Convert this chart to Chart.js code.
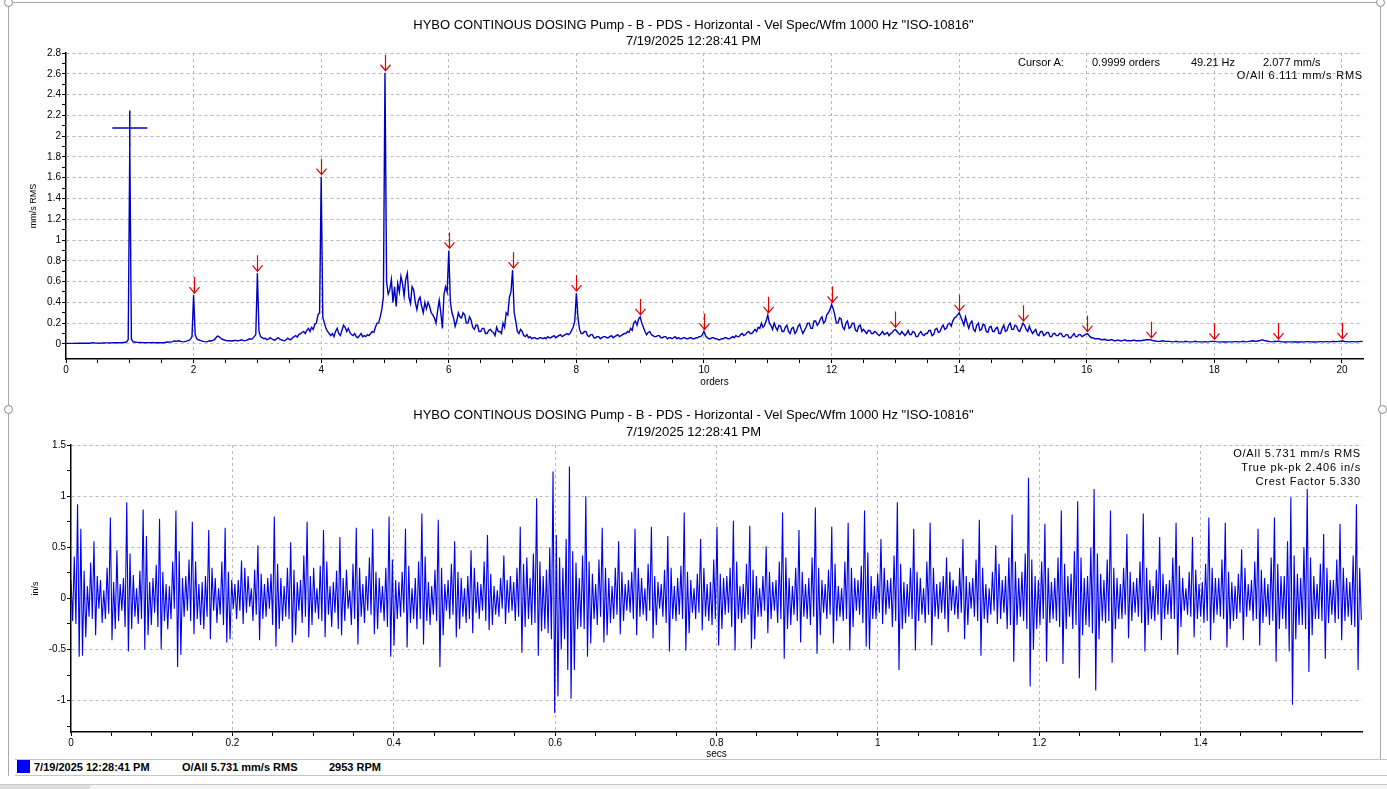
<!DOCTYPE html>
<html>
<head>
<meta charset="utf-8">
<title>Vel Spec/Wfm</title>
<script src="https://cdn.jsdelivr.net/npm/chart.js@4.4.1/dist/chart.umd.min.js"></script>
<style>
  html, body { margin: 0; padding: 0; background: #fff; }
  body { position: relative; width: 1387px; height: 789px; overflow: hidden; font-family: "Liberation Sans", Arial, sans-serif; color: #000; }
  canvas { position: absolute; left: 0; }
  #specChart { top: 0; }
  #wfmChart { top: 400px; }
  .txt { position: absolute; white-space: nowrap; }
  .title { left: 0; width: 1387px; text-align: center; font-size: 13px; line-height: 16px; }
  .note { font-size: 11px; line-height: 14px; }
  .spaced { letter-spacing: 0.8px; text-align: right; }
  .legend { font-size: 11px; font-weight: bold; line-height: 14px; top: 760px; }
  .line { position: absolute; background: #a9a9a9; }
  .handle { position: absolute; width: 7px; height: 7px; border: 1px solid #8a8a8a; border-radius: 50%; background: #fff; }
</style>
</head>
<body>
<div class="line" style="left:8px;top:2px;width:1373px;height:1px"></div>
<div class="line" style="left:8px;top:2px;width:1px;height:774px"></div>
<div class="line" style="left:1380px;top:2px;width:1px;height:757px"></div>
<div class="line" style="left:15px;top:759px;width:1372px;height:1px;background:#c4c4c4"></div>
<div class="line" style="left:15px;top:775px;width:1372px;height:1px;background:#c4c4c4"></div>
<div class="line" style="left:0;top:784px;width:1387px;height:5px;background:#f4f4f4"></div>
<div class="line" style="left:0;top:784px;width:1387px;height:1px;background:#c8c8c8"></div>
<div class="line" style="left:0;top:785px;width:90px;height:4px;background:#dedede"></div>

<canvas id="specChart" width="1387" height="395"></canvas>
<canvas id="wfmChart" width="1387" height="360"></canvas>

<div class="handle" style="left:4px;top:-2px"></div>
<div class="handle" style="left:1376px;top:-2px"></div>
<div class="handle" style="left:4px;top:405px"></div>
<div class="handle" style="left:1378px;top:405px"></div>

<div class="txt title" style="top:17px">HYBO CONTINOUS DOSING Pump - B - PDS - Horizontal - Vel Spec/Wfm 1000 Hz "ISO-10816"</div>
<div class="txt title" style="top:33px">7/19/2025 12:28:41 PM</div>
<div class="txt title" style="top:407px">HYBO CONTINOUS DOSING Pump - B - PDS - Horizontal - Vel Spec/Wfm 1000 Hz "ISO-10816"</div>
<div class="txt title" style="top:424px">7/19/2025 12:28:41 PM</div>

<div class="txt note" style="left:1018px;top:55px">Cursor A:</div>
<div class="txt note" style="left:1092px;top:55px">0.9999 orders</div>
<div class="txt note" style="left:1191px;top:55px">49.21 Hz</div>
<div class="txt note" style="left:1263px;top:55px">2.077 mm/s</div>
<div class="txt note spaced" style="right:24px;top:68px">O/All 6.111 mm/s RMS</div>

<div class="txt note spaced" style="right:26px;top:446px">O/All 5.731 mm/s RMS</div>
<div class="txt note spaced" style="right:26px;top:460px">True pk-pk 2.406 in/s</div>
<div class="txt note spaced" style="right:26px;top:474px">Crest Factor 5.330</div>

<div style="position:absolute;left:17px;top:760px;width:11px;height:11px;background:#0000ff;border:1px dotted #000040"></div>
<div class="txt legend" style="left:34px">7/19/2025 12:28:41 PM</div>
<div class="txt legend" style="left:182px">O/All 5.731 mm/s RMS</div>
<div class="txt legend" style="left:329px">2953 RPM</div>

<script>
// spectrum, one value every 0.025 orders from 0 to 20.325 (mm/s RMS), one row per order
var specStep = 0.025;
var specAmps = [
    0.005, 0.005, 0.005, 0.005, 0.005, 0.005, 0.006, 0.005, 0.006, 0.006, 0.006, 0.007, 0.007, 0.006, 0.008, 0.007, 0.010, 0.012, 0.009, 0.008,
    0.008, 0.007, 0.008, 0.009, 0.009, 0.010, 0.010, 0.009, 0.010, 0.011, 0.011, 0.012, 0.012, 0.011, 0.012, 0.013, 0.015, 0.014, 0.02, 0.04,
    1.92, 0.05, 0.02, 0.018, 0.016, 0.015, 0.014, 0.014, 0.013, 0.012, 0.012, 0.013, 0.013, 0.012, 0.014, 0.013, 0.012, 0.011, 0.012, 0.012,
    0.013, 0.012, 0.014, 0.016, 0.018, 0.017, 0.02, 0.022, 0.03, 0.025, 0.028, 0.03, 0.025, 0.022, 0.02, 0.024, 0.03, 0.035, 0.045, 0.07,
    0.47, 0.09, 0.05, 0.04, 0.035, 0.03, 0.025, 0.022, 0.02, 0.025, 0.03, 0.028, 0.035, 0.04, 0.06, 0.075, 0.07, 0.055, 0.045, 0.04,
    0.035, 0.03, 0.032, 0.03, 0.028, 0.03, 0.035, 0.032, 0.03, 0.035, 0.04, 0.035, 0.03, 0.035, 0.04, 0.05, 0.045, 0.05, 0.07, 0.09,
    0.68, 0.12, 0.07, 0.06, 0.05, 0.055, 0.04, 0.045, 0.06, 0.05, 0.04, 0.035, 0.05, 0.06, 0.045, 0.04, 0.035, 0.03, 0.04, 0.055,
    0.045, 0.04, 0.06, 0.07, 0.08, 0.065, 0.09, 0.1, 0.11, 0.12, 0.1, 0.13, 0.15, 0.12, 0.16, 0.14, 0.19, 0.2, 0.28, 0.3,
    1.61, 0.26, 0.2, 0.15, 0.12, 0.1, 0.08, 0.1, 0.07, 0.12, 0.15, 0.1, 0.08, 0.13, 0.18, 0.16, 0.12, 0.15, 0.11, 0.09,
    0.08, 0.1, 0.07, 0.06, 0.08, 0.1, 0.07, 0.08, 0.07, 0.09, 0.08, 0.1, 0.12, 0.11, 0.16, 0.2, 0.2, 0.26, 0.33, 0.45,
    2.61, 0.6, 0.48, 0.52, 0.62, 0.4, 0.55, 0.36, 0.58, 0.5, 0.65, 0.58, 0.46, 0.62, 0.68, 0.45, 0.39, 0.55, 0.52, 0.4,
    0.33, 0.42, 0.45, 0.36, 0.3, 0.4, 0.34, 0.4, 0.36, 0.3, 0.28, 0.25, 0.2, 0.32, 0.42, 0.3, 0.15, 0.48, 0.55, 0.5,
    0.9, 0.4, 0.3, 0.25, 0.17, 0.22, 0.3, 0.26, 0.25, 0.3, 0.28, 0.2, 0.2, 0.26, 0.23, 0.16, 0.14, 0.18, 0.18, 0.12,
    0.12, 0.15, 0.15, 0.1, 0.1, 0.13, 0.14, 0.12, 0.11, 0.08, 0.16, 0.12, 0.12, 0.1, 0.2, 0.16, 0.3, 0.28, 0.45, 0.5,
    0.71, 0.3, 0.22, 0.12, 0.1, 0.14, 0.12, 0.08, 0.07, 0.09, 0.06, 0.07, 0.05, 0.06, 0.06, 0.05, 0.05, 0.06, 0.06, 0.05,
    0.06, 0.05, 0.07, 0.06, 0.06, 0.07, 0.08, 0.06, 0.07, 0.08, 0.09, 0.07, 0.08, 0.09, 0.1, 0.09, 0.1, 0.13, 0.16, 0.22,
    0.49, 0.25, 0.14, 0.1, 0.1, 0.12, 0.12, 0.08, 0.07, 0.09, 0.09, 0.06, 0.06, 0.07, 0.07, 0.05, 0.06, 0.07, 0.07, 0.06,
    0.06, 0.07, 0.08, 0.06, 0.07, 0.08, 0.09, 0.07, 0.08, 0.09, 0.1, 0.1, 0.12, 0.11, 0.15, 0.13, 0.2, 0.22, 0.18, 0.24,
    0.26, 0.2, 0.16, 0.12, 0.09, 0.11, 0.12, 0.09, 0.08, 0.07, 0.07, 0.08, 0.08, 0.06, 0.06, 0.07, 0.07, 0.05, 0.06, 0.06,
    0.05, 0.06, 0.07, 0.05, 0.06, 0.05, 0.05, 0.06, 0.06, 0.05, 0.05, 0.06, 0.06, 0.05, 0.05, 0.06, 0.06, 0.07, 0.07, 0.09,
    0.12, 0.08, 0.06, 0.05, 0.05, 0.06, 0.06, 0.05, 0.05, 0.04, 0.04, 0.05, 0.05, 0.06, 0.06, 0.05, 0.05, 0.06, 0.07, 0.06,
    0.08, 0.07, 0.07, 0.09, 0.1, 0.08, 0.09, 0.11, 0.12, 0.1, 0.1, 0.12, 0.14, 0.12, 0.16, 0.15, 0.2, 0.16, 0.18, 0.22,
    0.28, 0.2, 0.18, 0.14, 0.2, 0.16, 0.13, 0.18, 0.17, 0.12, 0.12, 0.16, 0.18, 0.12, 0.1, 0.15, 0.16, 0.1, 0.12, 0.17,
    0.19, 0.14, 0.1, 0.13, 0.16, 0.2, 0.2, 0.15, 0.15, 0.22, 0.22, 0.18, 0.2, 0.24, 0.26, 0.2, 0.22, 0.28, 0.3, 0.33,
    0.38, 0.34, 0.28, 0.2, 0.2, 0.25, 0.24, 0.16, 0.14, 0.2, 0.22, 0.15, 0.16, 0.2, 0.2, 0.13, 0.12, 0.17, 0.18, 0.12,
    0.14, 0.12, 0.1, 0.13, 0.13, 0.1, 0.1, 0.12, 0.11, 0.09, 0.08, 0.1, 0.12, 0.09, 0.1, 0.11, 0.08, 0.1, 0.11, 0.13,
    0.14, 0.12, 0.1, 0.09, 0.12, 0.1, 0.08, 0.1, 0.13, 0.09, 0.09, 0.12, 0.11, 0.07, 0.07, 0.1, 0.12, 0.09, 0.08, 0.1,
    0.1, 0.13, 0.13, 0.08, 0.09, 0.14, 0.15, 0.11, 0.12, 0.16, 0.18, 0.14, 0.15, 0.19, 0.2, 0.17, 0.22, 0.25, 0.26, 0.28,
    0.3, 0.26, 0.22, 0.18, 0.26, 0.2, 0.15, 0.2, 0.22, 0.14, 0.12, 0.18, 0.2, 0.13, 0.14, 0.19, 0.18, 0.12, 0.11, 0.16,
    0.17, 0.12, 0.12, 0.15, 0.16, 0.1, 0.1, 0.15, 0.18, 0.12, 0.13, 0.18, 0.2, 0.14, 0.14, 0.18, 0.17, 0.13, 0.12, 0.16,
    0.2, 0.18, 0.14, 0.12, 0.17, 0.13, 0.1, 0.12, 0.14, 0.09, 0.08, 0.12, 0.12, 0.08, 0.09, 0.11, 0.11, 0.07, 0.07, 0.1,
    0.1, 0.08, 0.08, 0.1, 0.1, 0.07, 0.07, 0.09, 0.09, 0.06, 0.06, 0.08, 0.1, 0.07, 0.07, 0.09, 0.09, 0.07, 0.08, 0.09,
    0.1, 0.09, 0.07, 0.06, 0.06, 0.05, 0.05, 0.05, 0.05, 0.04, 0.04, 0.045, 0.04, 0.035, 0.035, 0.04, 0.04, 0.03, 0.03, 0.035,
    0.035, 0.03, 0.03, 0.035, 0.04, 0.03, 0.03, 0.03, 0.03, 0.035, 0.035, 0.03, 0.03, 0.03, 0.03, 0.035, 0.035, 0.04, 0.04, 0.04,
    0.04, 0.035, 0.03, 0.028, 0.025, 0.025, 0.025, 0.028, 0.03, 0.025, 0.025, 0.025, 0.025, 0.022, 0.02, 0.022, 0.025, 0.022, 0.02, 0.02,
    0.02, 0.022, 0.025, 0.022, 0.02, 0.02, 0.02, 0.022, 0.025, 0.022, 0.02, 0.02, 0.02, 0.02, 0.022, 0.02, 0.02, 0.022, 0.025, 0.025,
    0.025, 0.022, 0.02, 0.02, 0.02, 0.02, 0.018, 0.018, 0.02, 0.02, 0.02, 0.02, 0.02, 0.022, 0.022, 0.02, 0.02, 0.022, 0.025, 0.022,
    0.02, 0.022, 0.025, 0.028, 0.03, 0.028, 0.025, 0.028, 0.03, 0.035, 0.04, 0.035, 0.03, 0.028, 0.025, 0.022, 0.02, 0.022, 0.025, 0.022,
    0.028, 0.025, 0.02, 0.02, 0.018, 0.018, 0.02, 0.02, 0.02, 0.02, 0.018, 0.018, 0.02, 0.018, 0.018, 0.02, 0.02, 0.02, 0.022, 0.022,
    0.02, 0.02, 0.018, 0.018, 0.02, 0.02, 0.022, 0.022, 0.02, 0.02, 0.022, 0.022, 0.02, 0.02, 0.024, 0.024, 0.022, 0.022, 0.025, 0.025,
    0.03, 0.026, 0.022, 0.022, 0.02, 0.02, 0.022, 0.022, 0.02, 0.02, 0.022, 0.022, 0.025, 0.025
];
var arrowOrders = [2, 3, 4, 5, 6, 7, 8, 9, 10, 11, 12, 13, 14, 15, 16, 17, 18, 19, 20];
var cursorOrder = 0.9999;
var cursorAmp = 2.077;

var specXTicks = [0, 0.5, 1, 1.5, 2, 2.5, 3, 3.5, 4, 4.5, 5, 5.5, 6, 6.5, 7, 7.5, 8, 8.5, 9, 9.5, 10,
    10.5, 11, 11.5, 12, 12.5, 13, 13.5, 14, 14.5, 15, 15.5, 16, 16.5, 17, 17.5, 18, 18.5, 19, 19.5, 20];
var specXLabels = [0, 2, 4, 6, 8, 10, 12, 14, 16, 18, 20];
var specYTicks = [0, 0.1, 0.2, 0.3, 0.4, 0.5, 0.6, 0.7, 0.8, 0.9, 1, 1.1, 1.2, 1.3, 1.4, 1.5, 1.6, 1.7, 1.8, 1.9, 2,
    2.1, 2.2, 2.3, 2.4, 2.5, 2.6, 2.7, 2.8];
var specYLabels = [0, 0.2, 0.4, 0.6, 0.8, 1, 1.2, 1.4, 1.6, 1.8, 2, 2.2, 2.4, 2.6, 2.8];

// waveform, ten samples per shaft turn (in/s), one row per turn
var wfmStep = 0.002032;
var wfmValues = [
    0.18, -0.22, 0.41, -0.25, 0.92, -0.57, 0.68, -0.56, 0.27, -0.38,
    0.12, -0.18, 0.35, -0.20, 0.56, -0.36, 0.22, -0.10, 0.18, -0.24,
    0.08, -0.20, 0.30, -0.15, 0.79, -0.41, 0.16, -0.30, 0.47, -0.22,
    0.14, -0.12, 0.20, -0.28, 0.94, -0.52, 0.44, -0.30, 0.23, -0.18,
    0.10, -0.25, 0.27, -0.20, 0.87, -0.50, 0.61, -0.36, 0.16, -0.26,
    0.20, -0.14, 0.33, -0.28, 0.78, -0.50, 0.26, -0.22, 0.14, -0.30,
    0.12, -0.20, 0.36, -0.10, 0.86, -0.67, 0.46, -0.55, 0.20, -0.18,
    0.22, -0.12, 0.38, -0.22, 0.75, -0.35, 0.36, -0.20, 0.14, -0.26,
    0.16, -0.30, 0.22, -0.18, 0.67, -0.40, 0.30, -0.12, 0.20, -0.24,
    0.10, -0.16, 0.36, -0.26, 0.69, -0.43, 0.26, -0.40, 0.18, -0.10,
    0.14, -0.20, 0.18, -0.12, 0.37, -0.25, 0.30, -0.14, 0.22, -0.08,
    0.10, -0.22, 0.28, -0.16, 0.52, -0.41, 0.24, -0.20, 0.14, -0.18,
    0.20, -0.10, 0.24, -0.26, 0.80, -0.47, 0.34, -0.30, 0.20, -0.22,
    0.12, -0.18, 0.30, -0.20, 0.55, -0.43, 0.28, -0.36, 0.16, -0.12,
    0.18, -0.24, 0.42, -0.18, 0.75, -0.38, 0.22, -0.26, 0.30, -0.14,
    0.10, -0.20, 0.32, -0.22, 0.67, -0.38, 0.36, -0.16, 0.12, -0.28,
    0.16, -0.14, 0.27, -0.30, 0.60, -0.36, 0.20, -0.22, 0.28, -0.10,
    0.08, -0.26, 0.34, -0.20, 0.69, -0.45, 0.30, -0.18, 0.14, -0.24,
    0.22, -0.12, 0.40, -0.16, 0.68, -0.35, 0.26, -0.30, 0.20, -0.14,
    0.12, -0.22, 0.30, -0.28, 0.80, -0.57, 0.38, -0.46, 0.18, -0.20,
    0.16, -0.18, 0.26, -0.14, 0.68, -0.48, 0.32, -0.24, 0.10, -0.20,
    0.20, -0.30, 0.36, -0.20, 0.83, -0.45, 0.41, -0.22, 0.16, -0.26,
    0.12, -0.16, 0.28, -0.22, 0.77, -0.67, 0.30, -0.36, 0.14, -0.12,
    0.18, -0.20, 0.34, -0.16, 0.56, -0.38, 0.26, -0.30, 0.20, -0.18,
    0.10, -0.24, 0.22, -0.20, 0.47, -0.34, 0.30, -0.14, 0.16, -0.20,
    0.14, -0.12, 0.36, -0.22, 0.62, -0.31, 0.24, -0.26, 0.12, -0.16,
    0.08, -0.18, 0.20, -0.10, 0.42, -0.25, 0.18, -0.14, 0.22, -0.12,
    0.16, -0.22, 0.30, -0.18, 0.70, -0.53, 0.34, -0.28, 0.40, -0.20,
    0.20, -0.26, 0.44, -0.24, 0.98, -0.56, 0.36, -0.32, 0.22, -0.30,
    0.28, -0.34, 0.50, -0.40, 1.24, -1.12, 0.62, -0.96, 0.40, -0.50,
    0.30, -0.40, 0.58, -0.70, 1.29, -0.98, 0.46, -0.70, 0.35, -0.30,
    0.20, -0.28, 0.42, -0.30, 1.00, -0.57, 0.36, -0.44, 0.24, -0.20,
    0.14, -0.26, 0.38, -0.18, 0.69, -0.43, 0.30, -0.36, 0.20, -0.24,
    0.12, -0.20, 0.30, -0.16, 0.56, -0.35, 0.26, -0.22, 0.14, -0.12,
    0.18, -0.14, 0.26, -0.20, 0.68, -0.36, 0.30, -0.18, 0.20, -0.16,
    0.10, -0.22, 0.34, -0.12, 0.70, -0.39, 0.22, -0.26, 0.16, -0.10,
    0.14, -0.18, 0.28, -0.24, 0.61, -0.52, 0.30, -0.20, 0.12, -0.22,
    0.20, -0.16, 0.32, -0.20, 0.84, -0.51, 0.26, -0.34, 0.18, -0.14,
    0.10, -0.20, 0.24, -0.14, 0.58, -0.31, 0.30, -0.18, 0.14, -0.22,
    0.16, -0.26, 0.38, -0.20, 0.70, -0.46, 0.24, -0.30, 0.20, -0.16,
    0.22, -0.14, 0.30, -0.28, 0.76, -0.51, 0.36, -0.20, 0.12, -0.24,
    0.14, -0.20, 0.34, -0.16, 0.71, -0.49, 0.28, -0.40, 0.22, -0.18,
    0.10, -0.18, 0.22, -0.12, 0.51, -0.34, 0.26, -0.20, 0.16, -0.12,
    0.18, -0.24, 0.36, -0.20, 0.84, -0.59, 0.40, -0.30, 0.20, -0.26,
    0.12, -0.16, 0.30, -0.22, 0.67, -0.43, 0.26, -0.18, 0.14, -0.20,
    0.20, -0.26, 0.40, -0.18, 0.89, -0.54, 0.30, -0.36, 0.18, -0.14,
    0.14, -0.20, 0.28, -0.16, 0.70, -0.44, 0.34, -0.22, 0.12, -0.18,
    0.10, -0.22, 0.36, -0.20, 0.74, -0.51, 0.30, -0.28, 0.20, -0.12,
    0.18, -0.16, 0.32, -0.24, 0.86, -0.47, 0.45, -0.50, 0.22, -0.20,
    0.12, -0.20, 0.24, -0.14, 0.58, -0.25, 0.30, -0.16, 0.18, -0.10,
    0.20, -0.28, 0.42, -0.22, 0.94, -0.70, 0.34, -0.30, 0.16, -0.24,
    0.14, -0.18, 0.30, -0.20, 0.68, -0.51, 0.26, -0.22, 0.20, -0.16,
    0.10, -0.24, 0.36, -0.16, 0.74, -0.46, 0.30, -0.18, 0.14, -0.20,
    0.16, -0.14, 0.22, -0.20, 0.40, -0.33, 0.26, -0.12, 0.18, -0.16,
    0.12, -0.20, 0.30, -0.14, 0.58, -0.40, 0.22, -0.26, 0.16, -0.10,
    0.20, -0.18, 0.38, -0.22, 0.77, -0.56, 0.30, -0.20, 0.14, -0.24,
    0.10, -0.16, 0.26, -0.12, 0.52, -0.25, 0.34, -0.20, 0.18, -0.14,
    0.22, -0.30, 0.40, -0.26, 0.82, -0.62, 0.36, -0.26, 0.20, -0.18,
    0.26, -0.22, 0.44, -0.30, 1.18, -0.86, 0.38, -0.50, 0.22, -0.30,
    0.18, -0.26, 0.36, -0.20, 0.73, -0.62, 0.30, -0.24, 0.16, -0.20,
    0.20, -0.22, 0.40, -0.28, 0.86, -0.64, 0.34, -0.30, 0.22, -0.18,
    0.24, -0.30, 0.46, -0.26, 0.95, -0.78, 0.40, -0.36, 0.20, -0.26,
    0.22, -0.28, 0.50, -0.34, 1.07, -0.90, 0.44, -0.40, 0.24, -0.22,
    0.18, -0.24, 0.38, -0.22, 0.86, -0.63, 0.30, -0.30, 0.20, -0.20,
    0.14, -0.20, 0.30, -0.16, 0.63, -0.39, 0.26, -0.22, 0.16, -0.14,
    0.20, -0.18, 0.36, -0.24, 0.83, -0.52, 0.30, -0.26, 0.18, -0.20,
    0.12, -0.22, 0.28, -0.16, 0.60, -0.41, 0.24, -0.20, 0.14, -0.16,
    0.18, -0.20, 0.40, -0.20, 0.74, -0.55, 0.32, -0.28, 0.20, -0.12,
    0.10, -0.16, 0.26, -0.18, 0.60, -0.38, 0.28, -0.20, 0.14, -0.18,
    0.16, -0.24, 0.34, -0.22, 0.79, -0.41, 0.30, -0.24, 0.20, -0.16,
    0.20, -0.18, 0.38, -0.20, 0.74, -0.48, 0.26, -0.30, 0.16, -0.22,
    0.12, -0.20, 0.24, -0.14, 0.48, -0.41, 0.30, -0.18, 0.14, -0.12,
    0.18, -0.22, 0.36, -0.20, 0.68, -0.46, 0.28, -0.24, 0.20, -0.18,
    0.14, -0.26, 0.40, -0.22, 0.79, -0.62, 0.34, -0.30, 0.22, -0.20,
    0.22, -0.30, 0.56, -0.52, 0.99, -1.04, 0.42, -0.40, 0.24, -0.26,
    0.20, -0.26, 0.50, -0.30, 1.07, -0.72, 0.40, -0.36, 0.22, -0.20,
    0.14, -0.20, 0.34, -0.22, 0.63, -0.59, 0.30, -0.24, 0.18, -0.16,
    0.18, -0.24, 0.38, -0.20, 0.73, -0.41, 0.30, -0.22, 0.20, -0.18,
    0.16, -0.26, 0.42, -0.28, 0.92, -0.70, 0.30, -0.21
];

var wfmXTicks = [0, 0.05, 0.1, 0.15, 0.2, 0.25, 0.3, 0.35, 0.4, 0.45, 0.5, 0.55, 0.6, 0.65, 0.7, 0.75, 0.8,
    0.85, 0.9, 0.95, 1, 1.05, 1.1, 1.15, 1.2, 1.25, 1.3, 1.35, 1.4, 1.45, 1.5, 1.55];
var wfmXLabels = [0, 0.2, 0.4, 0.6, 0.8, 1, 1.2, 1.4];
var wfmYTicks = [-1.25, -1, -0.75, -0.5, -0.25, 0, 0.25, 0.5, 0.75, 1, 1.25, 1.5];
var wfmYLabels = [-1, -0.5, 0, 0.5, 1, 1.5];

var gridColor = '#b9b9b9';

Chart.defaults.font.family = '"Liberation Sans", Arial, sans-serif';
Chart.defaults.font.size = 10;
Chart.defaults.color = '#000';

function isLabel(v, labels) {
    for (var i = 0; i < labels.length; i++) {
        if (Math.abs(labels[i] - v) < 1e-9) return true;
    }
    return false;
}

// builds one axis: fixed tick list, labels only on the major ones, dashed grid on majors
function makeAxis(ticks, labels, opts) {
    return {
        type: 'linear',
        position: opts.position,
        min: opts.min,
        max: opts.max,
        afterBuildTicks: function (scale) {
            scale.ticks = ticks.map(function (v) { return { value: v }; });
        },
        afterFit: function (scale) {
            if (opts.width) scale.width = opts.width;
            if (opts.height) scale.height = opts.height;
        },
        ticks: {
            autoSkip: false,
            maxRotation: 0,
            padding: 1,
            color: '#000',
            font: { size: 10 },
            callback: function (value) {
                return isLabel(value, labels) ? String(value) : '';
            }
        },
        grid: {
            drawTicks: true,
            tickLength: 4,
            tickColor: '#000',
            lineWidth: 1,
            color: function (ctx) {
                if (!ctx.tick) return 'rgba(0,0,0,0)';
                var v = ctx.tick.value;
                if (!isLabel(v, labels)) return 'rgba(0,0,0,0)';
                if (opts.noZeroGrid && v === 0) return 'rgba(0,0,0,0)';
                return gridColor;
            }
        },
        border: { display: true, color: '#000', width: 1.5, dash: [3, 3] },
        title: opts.title
    };
}

var harmonicArrows = {
    id: 'harmonicArrows',
    afterDatasetsDraw: function (chart) {
        var x = chart.scales.x, y = chart.scales.y, ctx = chart.ctx;
        ctx.save();
        ctx.strokeStyle = '#e00000';
        ctx.lineWidth = 1.2;
        arrowOrders.forEach(function (n) {
            var px = Math.round(x.getPixelForValue(n)) + 0.5;
            var py = y.getPixelForValue(specAmps[Math.round(n / specStep)]) - 2;
            ctx.beginPath();
            ctx.moveTo(px, py - 16);
            ctx.lineTo(px, py);
            ctx.moveTo(px - 5, py - 6);
            ctx.lineTo(px, py);
            ctx.lineTo(px + 5, py - 6);
            ctx.stroke();
        });
        ctx.restore();
    }
};

var specPoints = specAmps.map(function (v, i) { return { x: i * specStep, y: v }; });
var wfmPoints = wfmValues.map(function (v, i) { return { x: i * wfmStep, y: v }; });

var specChart = new Chart(document.getElementById('specChart'), {
    type: 'line',
    data: {
        datasets: [{
            data: specPoints,
            borderColor: '#0000c4',
            borderWidth: 1.4,
            pointRadius: 0,
            tension: 0,
            fill: false
        }, {
            type: 'scatter',
            data: [{ x: cursorOrder, y: cursorAmp }],
            pointStyle: 'cross',
            pointRadius: 17.5,
            borderColor: '#0000c4',
            borderWidth: 1.5,
            backgroundColor: 'rgba(0,0,0,0)'
        }]
    },
    options: {
        responsive: false,
        animation: false,
        events: [],
        layout: { padding: { left: 0, right: 24, top: 53, bottom: 0 } },
        plugins: { legend: { display: false }, tooltip: { enabled: false } },
        scales: {
            x: makeAxis(specXTicks, specXLabels, {
                position: 'bottom', min: 0, max: 20.33, height: 36, noZeroGrid: true,
                title: { display: true, text: 'orders', font: { size: 10 }, padding: { top: 0, bottom: 7 } }
            }),
            y: makeAxis(specYTicks, specYLabels, {
                position: 'left', min: -0.145, max: 2.8, width: 66,
                title: { display: true, text: 'mm/s RMS', font: { size: 9 }, padding: { top: 28, bottom: 0 } }
            })
        }
    },
    plugins: [harmonicArrows]
});

var wfmChart = new Chart(document.getElementById('wfmChart'), {
    type: 'line',
    data: {
        datasets: [{
            data: wfmPoints,
            borderColor: '#0000f0',
            borderWidth: 1.1,
            pointRadius: 0,
            tension: 0,
            fill: false
        }]
    },
    options: {
        responsive: false,
        animation: false,
        events: [],
        layout: { padding: { left: 0, right: 25, top: 45, bottom: 0 } },
        plugins: { legend: { display: false }, tooltip: { enabled: false } },
        scales: {
            x: makeAxis(wfmXTicks, wfmXLabels, {
                position: 'bottom', min: 0, max: 1.6, height: 28, noZeroGrid: true,
                title: { display: true, text: 'secs', font: { size: 10 }, padding: { top: 0, bottom: 0 } }
            }),
            y: makeAxis(wfmYTicks, wfmYLabels, {
                position: 'left', min: -1.306, max: 1.5, width: 71,
                title: { display: true, text: 'in/s', font: { size: 9 }, padding: { top: 30, bottom: 0 } }
            })
        }
    }
});
</script>
</body>
</html>
